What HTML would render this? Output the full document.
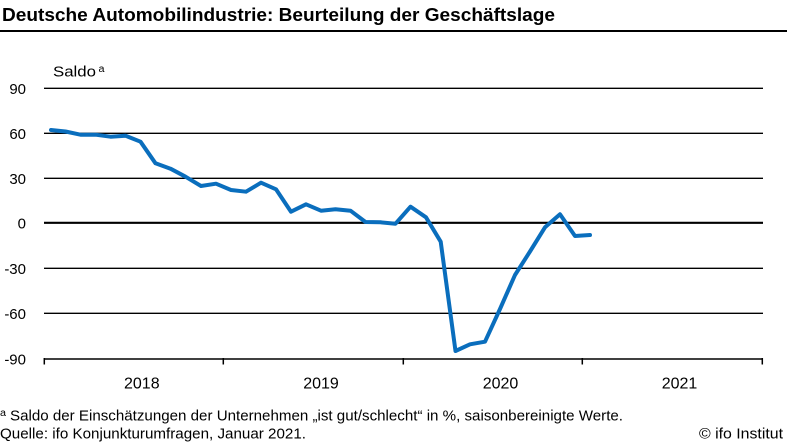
<!DOCTYPE html>
<html><head><meta charset="utf-8"><style>
html,body{margin:0;padding:0;background:#fff;}
svg{display:block;}
text{font-family:"Liberation Sans",sans-serif;fill:#000;}
</style></head><body>
<svg width="787" height="443" viewBox="0 0 787 443" xmlns="http://www.w3.org/2000/svg">
<rect width="787" height="443" fill="#fff"/>
<text x="2" y="21" font-size="18" font-weight="bold" textLength="553" lengthAdjust="spacingAndGlyphs">Deutsche Automobilindustrie: Beurteilung der Geschäftslage</text>
<rect x="0" y="30" width="787" height="2" fill="#000"/>
<text x="53" y="76.5" font-size="15" textLength="43" lengthAdjust="spacingAndGlyphs">Saldo</text>
<text x="98.5" y="72" font-size="10" textLength="6" lengthAdjust="spacingAndGlyphs">a</text>
<g stroke="#000" stroke-width="1.3">
<line x1="44" y1="88.3" x2="763" y2="88.3"/>
<line x1="44" y1="133.3" x2="763" y2="133.3"/>
<line x1="44" y1="178.3" x2="763" y2="178.3"/>
<line x1="44" y1="268.3" x2="763" y2="268.3"/>
<line x1="44" y1="313.3" x2="763" y2="313.3"/>
</g>
<line x1="44" y1="222.8" x2="763" y2="222.8" stroke="#000" stroke-width="2.2"/>
<g stroke="#000" stroke-width="1.5">
<line x1="44" y1="359" x2="763" y2="359"/>
<line x1="44.3" y1="358" x2="44.3" y2="364.5"/>
<line x1="223.3" y1="358" x2="223.3" y2="364.5"/>
<line x1="403.3" y1="358" x2="403.3" y2="364.5"/>
<line x1="582.3" y1="358" x2="582.3" y2="364.5"/>
<line x1="762.3" y1="358" x2="762.3" y2="364.5"/>
</g>
<g font-size="15" text-anchor="end">
<text x="26" y="94">90</text>
<text x="26" y="139">60</text>
<text x="26" y="184">30</text>
<text x="26" y="228.5">0</text>
<text x="26" y="274">-30</text>
<text x="26" y="319">-60</text>
<text x="26" y="364.5">-90</text>
</g>
<g font-size="16" text-anchor="middle">
<text x="141.8" y="388.3">2018</text>
<text x="321" y="388.3">2019</text>
<text x="500.5" y="388.3">2020</text>
<text x="679.5" y="388.3">2021</text>
</g>
<polyline fill="none" stroke="#0a6ebd" stroke-width="4" stroke-linejoin="round" stroke-linecap="round" points="51,130 65.5,131.5 80.5,134.7 95.5,134.7 110.5,136.7 125.5,135.7 140.5,141.7 155.5,163.3 170.5,168.7 185.5,176.7 201,186 216,183.7 231,190 246,191.7 261,182.7 276,189.3 291,211.7 306,204.3 321,210.7 335.5,209.3 350.5,210.7 365.5,222 380.5,222.3 395.5,223.7 410.5,206.7 426,217.3 440.7,241.7 455.5,351 470,344.3 485,341.7 500,309 515,275 530,251.5 545,227.3 560,214.3 575,236 590,235"/>
<text x="0" y="416" font-size="10" textLength="6" lengthAdjust="spacingAndGlyphs">a</text>
<text x="10" y="420.5" font-size="15" textLength="613" lengthAdjust="spacingAndGlyphs">Saldo der Einschätzungen der Unternehmen „ist gut/schlecht“ in %, saisonbereinigte Werte.</text>
<text x="0" y="438.3" font-size="15" textLength="306" lengthAdjust="spacingAndGlyphs">Quelle: ifo Konjunkturumfragen, Januar 2021.</text>
<text x="699" y="438.3" font-size="15" textLength="84" lengthAdjust="spacingAndGlyphs">© ifo Institut</text>
</svg>
</body></html>
